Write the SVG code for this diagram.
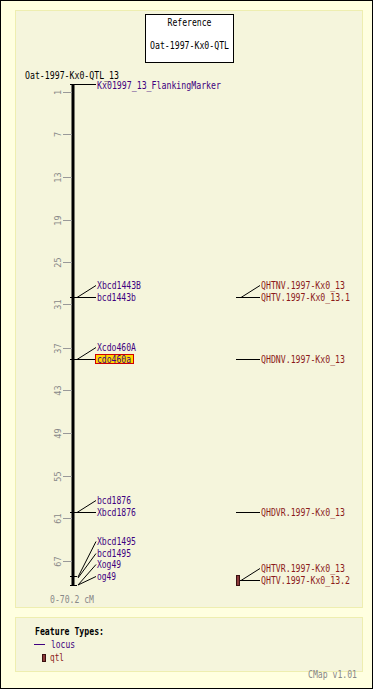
<svg xmlns="http://www.w3.org/2000/svg" width="373" height="689" viewBox="0 0 373 689">
<style>
.t{font-family:"DejaVu Sans Mono","Liberation Mono",monospace;font-size:10px;}
.blk{fill:#000;}
.loc{fill:#400080;}
.qtl{fill:#8b1a1a;}
.gry{fill:#888;}
.tl{font-family:"DejaVu Sans Mono","Liberation Mono",monospace;font-size:8.5px;fill:#888;text-anchor:middle;}
.ln{stroke:#000;stroke-width:1;fill:none;}
.tk{stroke:#999;stroke-width:1;}
</style>
<rect x="0.5" y="0.5" width="372" height="688" fill="#ffffe0" stroke="#000"/>
<rect x="15.5" y="10.5" width="347" height="597" fill="#f5f5dc" stroke="#eeeeb0"/>
<rect x="15.5" y="617.5" width="347" height="54" fill="#f5f5dc" stroke="#eeeeb0"/>

<g id="reference">
<rect x="145.5" y="14.5" width="88" height="48" fill="#fff" stroke="#000"/>
<text class="t blk" x="189.5" y="26" text-anchor="middle" textLength="44" lengthAdjust="spacingAndGlyphs">Reference</text>
<text class="t blk" x="189.5" y="49" text-anchor="middle" textLength="79" lengthAdjust="spacingAndGlyphs">Oat-1997-Kx0-QTL</text>
</g>

<g id="map">
<text class="t blk" x="25" y="78.5" textLength="94" lengthAdjust="spacingAndGlyphs">Oat-1997-Kx0-QTL_13</text>
<line x1="73" y1="85" x2="73" y2="585" stroke="#000" stroke-width="3"/>
<g class="tk">
<line x1="63" y1="92.5" x2="72" y2="92.5"/>
<line x1="63" y1="134.5" x2="72" y2="134.5"/>
<line x1="63" y1="177.5" x2="72" y2="177.5"/>
<line x1="63" y1="220.5" x2="72" y2="220.5"/>
<line x1="63" y1="262.5" x2="72" y2="262.5"/>
<line x1="63" y1="304.5" x2="72" y2="304.5"/>
<line x1="63" y1="348.5" x2="72" y2="348.5"/>
<line x1="63" y1="390.5" x2="72" y2="390.5"/>
<line x1="63" y1="433.5" x2="72" y2="433.5"/>
<line x1="63" y1="476.5" x2="72" y2="476.5"/>
<line x1="63" y1="518.5" x2="72" y2="518.5"/>
<line x1="63" y1="561.5" x2="72" y2="561.5"/>
</g>
<text class="tl" transform="translate(61,92.5) rotate(-90)">1</text>
<text class="tl" transform="translate(61,134.5) rotate(-90)">7</text>
<text class="tl" transform="translate(61,177.5) rotate(-90)">13</text>
<text class="tl" transform="translate(61,220.5) rotate(-90)">19</text>
<text class="tl" transform="translate(61,262.5) rotate(-90)">25</text>
<text class="tl" transform="translate(61,304.5) rotate(-90)">31</text>
<text class="tl" transform="translate(61,348.5) rotate(-90)">37</text>
<text class="tl" transform="translate(61,390.5) rotate(-90)">43</text>
<text class="tl" transform="translate(61,433.5) rotate(-90)">49</text>
<text class="tl" transform="translate(61,476.5) rotate(-90)">55</text>
<text class="tl" transform="translate(61,518.5) rotate(-90)">61</text>
<text class="tl" transform="translate(61,561.5) rotate(-90)">67</text>
<text class="t gry" x="50" y="603" textLength="44" lengthAdjust="spacingAndGlyphs">0-70.2 cM</text>
</g>

<g id="connectors" class="ln">
<line x1="70" y1="84.5" x2="77" y2="84.5"/>
<line x1="77" y1="84.5" x2="96" y2="84.5"/>
<line x1="70" y1="297.5" x2="77" y2="297.5"/>
<line x1="77" y1="297.5" x2="96" y2="297.5"/>
<line x1="77" y1="297.5" x2="96" y2="285.5"/>
<line x1="70" y1="359.5" x2="77" y2="359.5"/>
<line x1="77" y1="359.5" x2="95" y2="359.5"/>
<line x1="77" y1="359.5" x2="96" y2="347.5"/>
<line x1="70" y1="512.5" x2="77" y2="512.5"/>
<line x1="77" y1="512.5" x2="96" y2="512.5"/>
<line x1="77" y1="512.5" x2="96" y2="500.5"/>
<line x1="70" y1="576.5" x2="77" y2="576.5"/>
<line x1="70" y1="585.5" x2="77" y2="585.5"/>
<line x1="78" y1="577" x2="96" y2="541.5"/>
<line x1="78" y1="578" x2="96" y2="553.5"/>
<line x1="78" y1="585" x2="96" y2="564.5"/>
<line x1="78" y1="585" x2="96" y2="576.5"/>
<line x1="236" y1="297.5" x2="260" y2="297.5"/>
<line x1="241" y1="297.5" x2="260" y2="285.5"/>
<line x1="236" y1="359.5" x2="260" y2="359.5"/>
<line x1="236" y1="512.5" x2="260" y2="512.5"/>
<line x1="240" y1="580.5" x2="260" y2="580.5"/>
<line x1="241" y1="580.5" x2="260" y2="568.5"/>
</g>

<g id="Kx01997_13_FlankingMarker"><text class="t loc" x="97" y="88.5" textLength="124" lengthAdjust="spacingAndGlyphs">Kx01997_13_FlankingMarker</text></g>
<g id="Xbcd1443B"><text class="t loc" x="97" y="288.5" textLength="44" lengthAdjust="spacingAndGlyphs">Xbcd1443B</text></g>
<g id="bcd1443b"><text class="t loc" x="97" y="300.5" textLength="39" lengthAdjust="spacingAndGlyphs">bcd1443b</text></g>
<g id="Xcdo460A"><text class="t loc" x="97" y="350.5" textLength="39" lengthAdjust="spacingAndGlyphs">Xcdo460A</text></g>
<g id="cdo460a"><rect x="95.5" y="354.5" width="38" height="9" fill="#ffd700" stroke="#d00000"/><text class="t loc" x="97" y="362.5" textLength="34" lengthAdjust="spacingAndGlyphs">cdo460a</text></g>
<g id="bcd1876"><text class="t loc" x="97" y="503.5" textLength="34" lengthAdjust="spacingAndGlyphs">bcd1876</text></g>
<g id="Xbcd1876"><text class="t loc" x="97" y="515.5" textLength="39" lengthAdjust="spacingAndGlyphs">Xbcd1876</text></g>
<g id="Xbcd1495"><text class="t loc" x="97" y="544.5" textLength="39" lengthAdjust="spacingAndGlyphs">Xbcd1495</text></g>
<g id="bcd1495"><text class="t loc" x="97" y="556.5" textLength="34" lengthAdjust="spacingAndGlyphs">bcd1495</text></g>
<g id="Xog49"><text class="t loc" x="97" y="567.5" textLength="24" lengthAdjust="spacingAndGlyphs">Xog49</text></g>
<g id="og49"><text class="t loc" x="97" y="579.5" textLength="19" lengthAdjust="spacingAndGlyphs">og49</text></g>

<g id="QHTNV.1997-Kx0_13"><text class="t qtl" x="261" y="288.5" textLength="84" lengthAdjust="spacingAndGlyphs">QHTNV.1997-Kx0_13</text></g>
<g id="QHTV.1997-Kx0_13.1"><text class="t qtl" x="261" y="300.5" textLength="89" lengthAdjust="spacingAndGlyphs">QHTV.1997-Kx0_13.1</text></g>
<g id="QHDNV.1997-Kx0_13"><text class="t qtl" x="261" y="362.5" textLength="84" lengthAdjust="spacingAndGlyphs">QHDNV.1997-Kx0_13</text></g>
<g id="QHDVR.1997-Kx0_13"><text class="t qtl" x="261" y="515.5" textLength="84" lengthAdjust="spacingAndGlyphs">QHDVR.1997-Kx0_13</text></g>
<g id="QHTVR.1997-Kx0_13"><text class="t qtl" x="261" y="571.5" textLength="84" lengthAdjust="spacingAndGlyphs">QHTVR.1997-Kx0_13</text></g>
<g id="QHTV.1997-Kx0_13.2"><rect x="236.5" y="575.5" width="3" height="10" fill="#8b3a3a" stroke="#3a1010"/><text class="t qtl" x="261" y="583.5" textLength="89" lengthAdjust="spacingAndGlyphs">QHTV.1997-Kx0_13.2</text></g>

<g id="legend">
<text class="t blk" x="35" y="634.5" font-weight="bold" textLength="69" lengthAdjust="spacingAndGlyphs">Feature Types:</text>
<line x1="34" y1="644.5" x2="45" y2="644.5" stroke="#400080"/>
<text class="t loc" x="51" y="647.5" textLength="24" lengthAdjust="spacingAndGlyphs">locus</text>
<rect x="42.5" y="654.5" width="3" height="7" fill="#8b3a3a" stroke="#3a1010"/>
<text class="t qtl" x="50" y="661" textLength="14" lengthAdjust="spacingAndGlyphs">qtl</text>
<text class="t gry" x="357" y="678" text-anchor="end" textLength="49" lengthAdjust="spacingAndGlyphs">CMap v1.01</text>
</g>
</svg>
